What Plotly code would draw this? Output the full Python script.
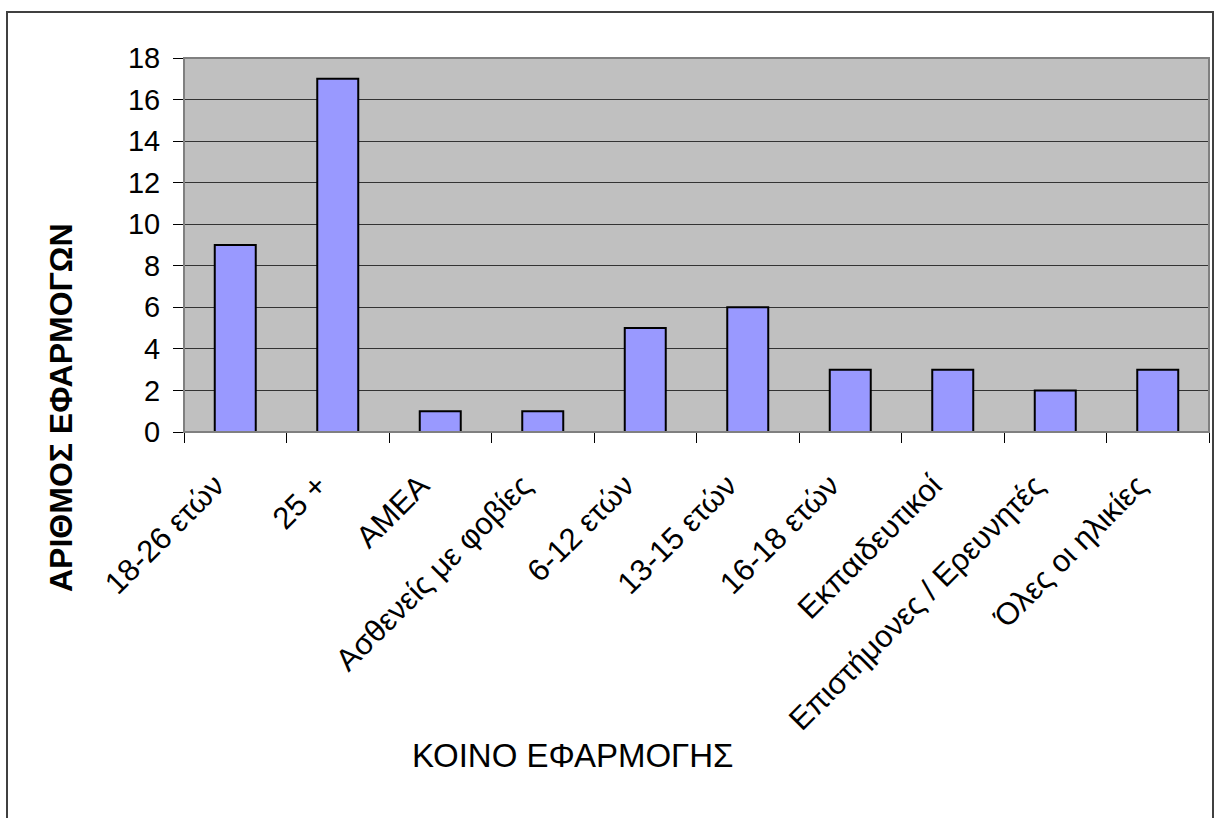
import plotly.graph_objects as go

categories = ["18-26 ετών", "25 +", "ΑΜΕΑ", "Ασθενείς με φοβίες", "6-12 ετών",
              "13-15 ετών", "16-18 ετών", "Εκπαιδευτικοί", "Επιστήμονες / Ερευνητές",
              "Όλες οι ηλικίες"]
values = [9, 17, 1, 1, 5, 6, 3, 3, 2, 3]
y_ticks = [0, 2, 4, 6, 8, 10, 12, 14, 16, 18]

FONT = "Liberation Sans, Arial, sans-serif"

fig = go.Figure()
fig.add_trace(go.Bar(
    x=categories, y=values,
    marker=dict(color="#9999FF", line=dict(color="black", width=2)),
    width=0.4,
))

W, H = 1217, 818
L, R, T, B = 184, 8, 58, 386
pw, ph = W - L - R, H - T - B

def px(x):
    return (x - L) / pw

def py(y):
    return (H - B - y) / ph

fig.update_layout(
    width=W, height=H,
    margin=dict(l=L, r=R, t=T, b=B, autoexpand=False),
    paper_bgcolor="white",
    plot_bgcolor="#C0C0C0",
    showlegend=False,
    font=dict(family=FONT, color="black", size=28),
    xaxis=dict(
        type="category",
        tickangle=-45,
        ticks="outside", ticklen=10, tickcolor="black", tickwidth=1,
        tickson="boundaries",
        showline=True, linecolor="black", linewidth=1,
        showgrid=False,
        tickfont=dict(family=FONT, size=31, color="black"),
        ticklabelshift=-20,
        ticklabelstandoff=22,
        range=[-0.5, len(categories) - 0.5],
    ),
    yaxis=dict(
        range=[0, 18],
        tickvals=y_ticks,
        ticks="outside", ticklen=10, tickcolor="black", tickwidth=1,
        showline=True, linecolor="black", linewidth=1,
        showgrid=True, gridcolor="#333333", gridwidth=1,
        zeroline=False,
        tickfont=dict(family=FONT, size=29, color="black"),
        ticklabelstandoff=7,
    ),
    shapes=[
        dict(type="rect", xref="paper", yref="paper", x0=0, x1=1, y0=0, y1=1,
             line=dict(color="#808080", width=2), layer="above"),
        dict(type="rect", xref="paper", yref="paper",
             x0=px(7), x1=px(1213), y0=py(830), y1=py(12),
             line=dict(color="#404040", width=2)),
    ],
    annotations=[
        dict(text="ΑΡΙΘΜΟΣ ΕΦΑΡΜΟΓΩΝ", xref="paper", yref="paper",
             x=px(61), y=py(408), textangle=-90, showarrow=False,
             xanchor="center", yanchor="middle",
             font=dict(family=FONT, size=32, color="black", weight="bold")),
        dict(text="ΚΟΙΝΟ ΕΦΑΡΜΟΓΗΣ", xref="paper", yref="paper",
             x=px(572), y=py(755), showarrow=False,
             xanchor="center", yanchor="middle",
             font=dict(family=FONT, size=33, color="black")),
    ],
)

fig.write_html("out.html")
